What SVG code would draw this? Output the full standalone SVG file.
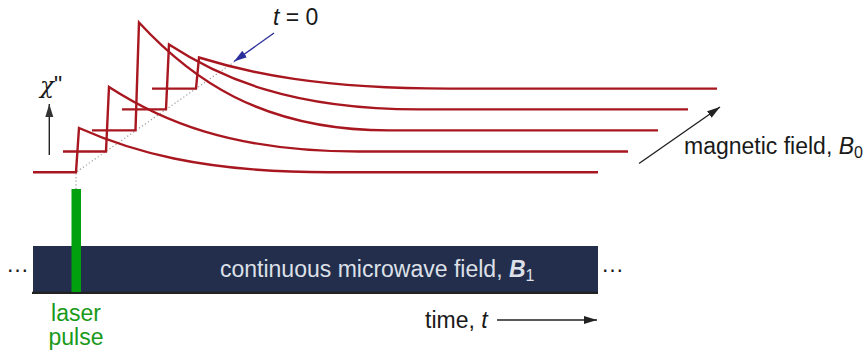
<svg xmlns="http://www.w3.org/2000/svg" width="868" height="351" viewBox="0 0 868 351">
<style>
text{font-family:"Liberation Sans",Arial,sans-serif;font-size:23px;fill:#1a1a1a}
.curve{fill:none;stroke:#a8171f;stroke-width:2.4;stroke-linejoin:miter}
.dot{fill:none;stroke:#9a9a9a;stroke-width:1.2;stroke-dasharray:1.2 2.4}
.ax{stroke:#222;stroke-width:1.4;fill:none}
</style>
<defs>
<marker id="ahK" markerWidth="14" markerHeight="10" refX="13" refY="5" orient="auto" markerUnits="userSpaceOnUse"><path d="M0,1 L13,5 L0,9 Z" fill="#222"/></marker>
<marker id="ahG" markerWidth="14" markerHeight="10" refX="13" refY="5" orient="auto" markerUnits="userSpaceOnUse"><path d="M0,1 L13,5 L0,9 Z" fill="#333"/></marker>
<marker id="ahB" markerWidth="14" markerHeight="10" refX="13" refY="5" orient="auto" markerUnits="userSpaceOnUse"><path d="M0,1 L13,5 L0,9 Z" fill="#2b2f9a"/></marker>
</defs>

<g id="microwave">
<rect x="33" y="246" width="565" height="47" fill="#222e4c"/>
<line x1="32" y1="292.8" x2="598" y2="292.8" stroke="#222" stroke-width="2.2"/>
<text x="220" y="277" style="fill:#dde0e8">continuous microwave field, <tspan font-weight="bold" font-style="italic" style="fill:#dde0e8">B</tspan><tspan font-size="16" dy="4" style="fill:#dde0e8">1</tspan></text>
<text x="6" y="272" font-size="20">…</text>
<text x="601" y="272" font-size="20">…</text>
</g>

<g id="laser">
<rect x="71.5" y="189" width="9.5" height="103" fill="#01a00f"/>
<text x="76" y="321" text-anchor="middle" font-size="22" style="fill:#1a9a1a">laser</text>
<text x="76" y="345" text-anchor="middle" font-size="22" style="fill:#1a9a1a">pulse</text>
</g>

<g id="connectors">
<path class="dot" d="M76,189 L76,172.3 L234,62"/>
<line x1="274" y1="33" x2="234" y2="61.5" stroke="#2b2f9a" stroke-width="1.4" marker-end="url(#ahB)"/>
<line class="ax" x1="49.3" y1="155" x2="49.3" y2="104" marker-end="url(#ahG)"/>
<line class="ax" x1="639" y1="163.5" x2="720" y2="107" marker-end="url(#ahK)"/>
<line class="ax" x1="497" y1="320" x2="597" y2="320" marker-end="url(#ahK)"/>
</g>

<g id="curves">
<path id="c1" class="curve" d="M33,172.3 L76,172.3 L79,128 C129,150.2 199,172.3 329,172.3 L598,172.3"/>
<path id="c2" class="curve" d="M63,151.5 L106,151.5 L109,87 C159,119.3 229,151.5 359,151.5 L628,151.5"/>
<path id="c3" class="curve" d="M92,130.4 L135.5,130.4 L139,22.5 C189,76.5 259,130.4 389,130.4 L658,130.4"/>
<path id="c4" class="curve" d="M122,109.4 L166,109.4 L169,44.5 C219,77 289,109.4 419,109.4 L688,109.4"/>
<path id="c5" class="curve" d="M152,88.6 L196,88.6 L199,57.5 C249,73 319,88.6 449,88.6 L717,88.6"/>
</g>

<g id="labels">
<text x="273" y="25"><tspan font-style="italic">t</tspan> = 0</text>
<text x="40" y="93" font-size="22"><tspan font-family="DejaVu Serif" font-style="italic">χ</tspan>"</text>
<text x="684" y="154">magnetic field, <tspan font-style="italic">B</tspan><tspan font-size="16" dy="4">0</tspan></text>
<text x="425" y="328">time, <tspan font-style="italic">t</tspan></text>
</g>
</svg>
